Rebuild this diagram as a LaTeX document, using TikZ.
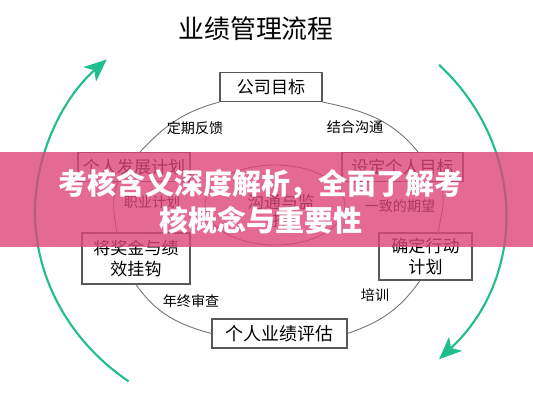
\documentclass[tikz,border=0pt]{standalone}
\usepackage{fontspec}
\setmainfont{Noto Sans CJK SC}
\usepackage{tikz}
\usetikzlibrary{arrows.meta}
\definecolor{cyclegreen}{RGB}{32,190,140}
\definecolor{bannerpink}{RGB}{221,69,121}

\begin{document}
\begin{tikzpicture}[x=0.02cm, y=0.02cm,
    box/.style={draw=black!65, fill=white, line width=0.6pt, inner sep=0pt, align=center, font=\fontsize{9.7}{11.5}\selectfont},
    tag/.style={font=\fontsize{8}{10}\selectfont},
    ring/.style={draw=black!55, line width=0.5pt},
    loop/.style={cyclegreen, line width=1.2pt, -{Stealth[length=0.45cm, width=0.38cm, inset=0.12cm]}}]
    \useasboundingbox (0,0) rectangle (533,400);

    % title
    \node[font=\fontsize{14.7}{17}\selectfont] (title) at (256,371) {业绩管理流程};

    % boxes
    \node[box, minimum width=2.04cm, minimum height=0.58cm] (goal) at (271,313) {公司目标};
    \node[box, minimum width=2.24cm, minimum height=0.58cm] (dev) at (134,233) {个人发展计划};
    \node[box, minimum width=2.42cm, minimum height=0.58cm] (set) at (402.5,233) {设定个人目标};
    \node[box, minimum width=2.16cm, minimum height=1.02cm] (bonus) at (136,141.5) {将奖金与绩\\效挂钩};
    \node[box, minimum width=1.86cm, minimum height=0.94cm] (action) at (425.5,143.5) {确定行动\\计划};
    \node[box, minimum width=2.7cm, minimum height=0.58cm, font=\fontsize{10.2}{12}\selectfont] (review) at (279.5,66.5) {个人业绩评估};

    % ring
    \draw[ring] (goal.south west) to[out=195, in=47] ([xshift=0.12cm]dev.north);
    \draw[ring] (goal.south east) to[out=-12, in=129] ([xshift=0.31cm]set.north);
    \draw[ring] ([xshift=-0.32cm]dev.south) to[out=250, in=100] ([xshift=-0.38cm]bonus.north);
    \draw[ring] ([xshift=0.75cm]set.south) to[out=-70, in=80] ([xshift=0.25cm]action.north);
    \draw[ring] (bonus.south) to[out=-55, in=165] (review.west);
    \draw[ring] ([xshift=-0.11cm]action.south) to[out=235, in=19] (review.east);
    \draw[ring] (275,195) ellipse [x radius=70, y radius=40];

    % labels
    \node[tag] (feedback) at (195,272) {定期反馈};
    \node[tag] (talk) at (355,273) {结合沟通};
    \node[tag] (career) at (152,198) {职业计划};
    \node[tag] (expect) at (400,194) {一致的期望};
    \node[tag] (yearend) at (191,99) {年终审查};
    \node[tag] (training) at (375,105) {培训};
    \node[align=center, font=\fontsize{9.6}{10.5}\selectfont] (monitor) at (281,189) {沟通与监\\控};

    % cycle arrows
    \coordinate (hub) at (270,188);
    \draw[loop] ([shift={(233:235 and 212)}]hub) arc[start angle=233, end angle=134, x radius=235, y radius=212];
    \draw[loop] ([shift={(44:235 and 212)}]hub) arc[start angle=44, end angle=-44, x radius=235, y radius=212];

    % banner
    \fill[bannerpink, fill opacity=0.8] (0,153) rectangle (533,248);
    \node[text=white, align=center, font=\bfseries\fontsize{16.5}{21}\selectfont] (headline) at (261,198.5) {考核含义深度解析，全面了解考\\核概念与重要性};
\end{tikzpicture}
\end{document}
